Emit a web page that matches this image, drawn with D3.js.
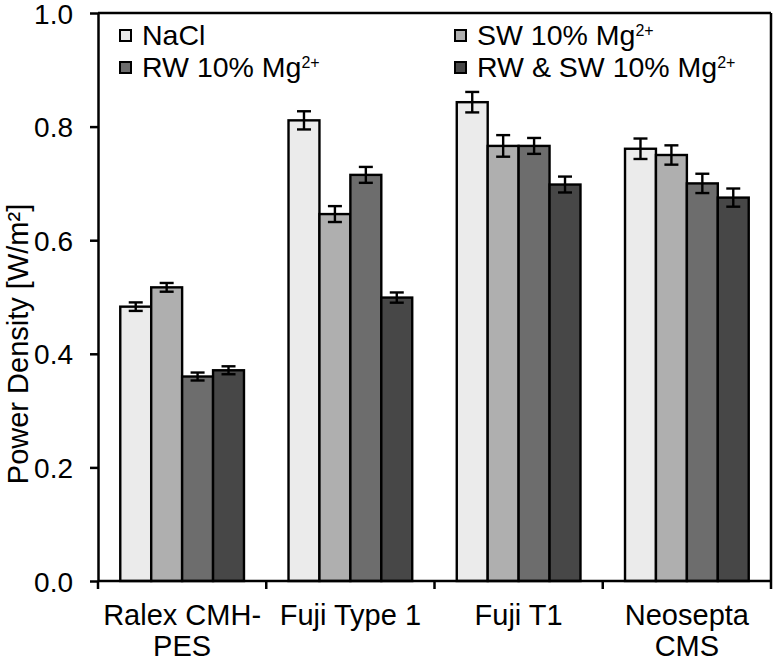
<!DOCTYPE html>
<html>
<head>
<meta charset="utf-8">
<script src="https://cdn.jsdelivr.net/npm/d3@7"></script>
<style>
  html, body { margin: 0; padding: 0; background: #fff; }
  svg { display: block; }
  text { font-family: "Liberation Sans", Arial, sans-serif; fill: #000; }
</style>
</head>
<body>
<svg id="chart" width="775" height="661"></svg>
<script>
// ---- data ----
const categories = ["Ralex CMH-\nPES", "Fuji Type 1", "Fuji T1", "Neosepta\nCMS"];
const seriesNames = ["NaCl", "SW 10% Mg", "RW 10% Mg", "RW & SW 10% Mg"];
const seriesSup = ["", "2+", "2+", "2+"];
const naclValues = [0.483, 0.811, 0.843, 0.761];
const swValues   = [0.517, 0.646, 0.766, 0.750];
const rwValues   = [0.360, 0.715, 0.766, 0.700];
const rwswValues = [0.371, 0.499, 0.698, 0.675];
const naclErr = [0.0075, 0.016, 0.018, 0.018];
const swErr   = [0.0077, 0.014, 0.019, 0.017];
const rwErr   = [0.007, 0.014, 0.014, 0.017];
const rwswErr = [0.007, 0.009, 0.014, 0.016];
const yTicks = [0, 0.2, 0.4, 0.6, 0.8, 1.0];
const colors = ["#ebebeb", "#afafaf", "#6d6d6d", "#474747"];

const values = [naclValues, swValues, rwValues, rwswValues];
const errors = [naclErr, swErr, rwErr, rwswErr];

// ---- layout ----
const svg = d3.select("#chart");
const pLeft = 98, pRight = 771, pTop = 13, pBottom = 581;

const x = d3.scaleBand().domain(categories).range([pLeft, pRight]).padding(0);
const xInner = d3.scaleBand().domain(d3.range(4))
  .range([0, x.bandwidth()]).paddingOuter(0.72).paddingInner(0);
const y = d3.scaleLinear().domain([0, 1]).range([pBottom, pTop]);

const rows = [];
categories.forEach((c, ci) => {
  values.forEach((s, si) => rows.push({c, ci, si, v: s[ci], e: errors[si][ci]}));
});

// bars
const barG = svg.append("g");
barG.selectAll("rect").data(rows).join("rect")
  .attr("x", d => x(d.c) + xInner(d.si))
  .attr("y", d => y(d.v))
  .attr("width", xInner.bandwidth())
  .attr("height", d => y(0) - y(d.v))
  .attr("fill", d => colors[d.si])
  .attr("stroke", "#000")
  .attr("stroke-width", 2.4);

// error bars
const errG = svg.append("g").attr("stroke", "#000").attr("stroke-width", 2.4);
rows.forEach(d => {
  const cx = x(d.c) + xInner(d.si) + xInner.bandwidth() / 2;
  const hw = 7;
  errG.append("line").attr("x1", cx).attr("x2", cx).attr("y1", y(d.v + d.e)).attr("y2", y(d.v - d.e));
  errG.append("line").attr("x1", cx - hw).attr("x2", cx + hw).attr("y1", y(d.v + d.e)).attr("y2", y(d.v + d.e));
  errG.append("line").attr("x1", cx - hw).attr("x2", cx + hw).attr("y1", y(d.v - d.e)).attr("y2", y(d.v - d.e));
});

// frame (top & right)
svg.append("line").attr("x1", pLeft).attr("x2", pRight).attr("y1", pTop).attr("y2", pTop)
  .attr("stroke", "#000").attr("stroke-width", 2.5);
svg.append("line").attr("x1", pRight).attr("x2", pRight).attr("y1", pTop).attr("y2", pBottom)
  .attr("stroke", "#000").attr("stroke-width", 2.5);

// y axis
const yAxis = svg.append("g").attr("transform", `translate(${pLeft},0)`)
  .call(d3.axisLeft(y).tickValues(yTicks).tickFormat(d3.format(".1f")).tickSize(8).tickSizeOuter(0).tickPadding(17));
yAxis.select(".domain").attr("stroke-width", 2.5);
yAxis.selectAll(".tick line").attr("stroke-width", 2.5);
yAxis.selectAll(".tick text").attr("font-size", 28).attr("font-family", "Liberation Sans, Arial, sans-serif").attr("dy", "0.36em");

// x axis: ticks at category boundaries
const boundaries = categories.map(c => x(c)).concat([pRight]);
const xAxisG = svg.append("g");
xAxisG.append("line").attr("x1", pLeft).attr("x2", pRight).attr("y1", pBottom).attr("y2", pBottom)
  .attr("stroke", "#000").attr("stroke-width", 2.5);
xAxisG.selectAll("line.t").data(boundaries).join("line").attr("class", "t")
  .attr("x1", d => d).attr("x2", d => d).attr("y1", pBottom).attr("y2", pBottom + 8)
  .attr("stroke", "#000").attr("stroke-width", 2.5);

const xl = svg.append("g").selectAll("text").data(categories).join("text")
  .attr("x", d => x(d) + x.bandwidth() / 2)
  .attr("y", 625)
  .attr("text-anchor", "middle")
  .attr("font-size", 29);
xl.each(function(d) {
  const lines = d.split("\n");
  d3.select(this).selectAll("tspan").data(lines).join("tspan")
    .attr("x", x(d) + x.bandwidth() / 2)
    .attr("dy", (l, i) => i === 0 ? 0 : 31)
    .text(l => l);
});

// y axis title
svg.append("text")
  .attr("transform", "translate(28,344) rotate(-90)")
  .attr("text-anchor", "middle")
  .attr("font-size", 29)
  .text("Power Density [W/m²]");

// legend
const legendPos = [
  {bx: 120, by: 30},
  {bx: 455, by: 30},
  {bx: 120, by: 62},
  {bx: 455, by: 62}
];
const lg = svg.append("g");
seriesNames.forEach((name, i) => {
  const p = legendPos[i];
  lg.append("rect").attr("x", p.bx).attr("y", p.by).attr("width", 11).attr("height", 11)
    .attr("fill", colors[i]).attr("stroke", "#000").attr("stroke-width", 2);
  const t = lg.append("text").attr("x", p.bx + 22).attr("y", p.by + 15).attr("font-size", 28.5);
  t.append("tspan").text(name);
  if (seriesSup[i]) {
    t.append("tspan").attr("font-size", 16).attr("dy", -9).text(seriesSup[i]);
  }
});
</script>
</body>
</html>
